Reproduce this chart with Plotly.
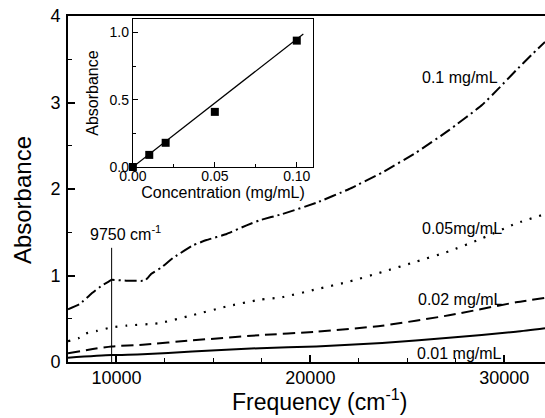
import plotly.graph_objects as go

# ---- main spectra data ----
freq_01 = [7500, 8100, 8760, 9280, 9600, 9750, 10500, 11470, 11600, 11800, 12300, 12900,
           13950, 14650, 15680, 16710, 17400, 18550, 20300, 22000, 23700, 25450, 27150,
           28850, 29700, 30600, 31400, 32100]
abs_01 = [0.61, 0.67, 0.80, 0.89, 0.93, 0.95, 0.94, 0.94, 0.97, 1.02, 1.09, 1.20,
          1.35, 1.41, 1.48, 1.58, 1.64, 1.71, 1.84, 2.00, 2.19, 2.42, 2.68,
          2.97, 3.16, 3.37, 3.55, 3.70]

freq_005 = [7500, 8100, 8440, 9000, 9750, 10500, 12200, 13900, 15650, 17400, 18550,
            20300, 22000, 23700, 25450, 27150, 28850, 30600, 32100]
abs_005 = [0.24, 0.28, 0.33, 0.36, 0.40, 0.42, 0.45, 0.54, 0.64, 0.72, 0.75,
           0.84, 0.93, 1.04, 1.16, 1.28, 1.43, 1.60, 1.71]

freq_002 = [7500, 8780, 9750, 11350, 13900, 17400, 20300, 23700, 27150, 30600, 32100]
abs_002 = [0.10, 0.15, 0.18, 0.20, 0.25, 0.31, 0.35, 0.42, 0.54, 0.69, 0.74]

freq_001 = [7500, 9750, 11350, 13900, 17400, 20300, 23700, 27150, 30600, 32100]
abs_001 = [0.05, 0.08, 0.09, 0.12, 0.16, 0.18, 0.22, 0.28, 0.35, 0.39]

marker_freq = [9750, 9750]
marker_abs = [0.0, 1.32]

series_labels = ["0.1 mg/mL", "0.05mg/mL", "0.02 mg/mL", "0.01 mg/mL"]
label_x = [27700, 27800, 27750, 27700]
label_y = [3.29, 1.54, 0.72, 0.10]

# ---- inset calibration data ----
conc = [0.0, 0.01, 0.02, 0.05, 0.10]
conc_abs = [0.0, 0.09, 0.18, 0.41, 0.94]
fit_conc = [0.0, 0.104]
fit_abs = [0.0, 0.99]

FONT = "Liberation Sans, Arial, sans-serif"
BLACK = "black"

fig = go.Figure()

fig.add_trace(go.Scatter(x=freq_01, y=abs_01, mode="lines",
                         line=dict(color=BLACK, width=2, dash="12px,4px,2px,4px",
                                   shape="spline", smoothing=0.3),
                         showlegend=False))
fig.add_trace(go.Scatter(x=freq_005, y=abs_005, mode="lines",
                         line=dict(color=BLACK, width=2.2, dash="2px,8px", shape="spline", smoothing=0.6),
                         showlegend=False))
fig.add_trace(go.Scatter(x=freq_002, y=abs_002, mode="lines",
                         line=dict(color=BLACK, width=2, dash="12px,6px", shape="spline", smoothing=0.6),
                         showlegend=False))
fig.add_trace(go.Scatter(x=freq_001, y=abs_001, mode="lines",
                         line=dict(color=BLACK, width=2, shape="spline", smoothing=0.6),
                         showlegend=False))
fig.add_trace(go.Scatter(x=marker_freq, y=marker_abs, mode="lines",
                         line=dict(color=BLACK, width=1), showlegend=False))

# inset
fig.add_trace(go.Scatter(x=fit_conc, y=fit_abs, mode="lines", xaxis="x2", yaxis="y2",
                         line=dict(color=BLACK, width=1.2), showlegend=False))
fig.add_trace(go.Scatter(x=conc, y=conc_abs, mode="markers", xaxis="x2", yaxis="y2",
                         marker=dict(symbol="square", size=8, color=BLACK),
                         cliponaxis=False, showlegend=False))

for t, xv, yv in zip(series_labels, label_x, label_y):
    fig.add_annotation(x=xv, y=yv, text=t, showarrow=False, xref="x", yref="y",
                       font=dict(family=FONT, size=16, color=BLACK))

fig.add_annotation(x=10460, y=1.49, text="9750 cm<sup>-1</sup>", showarrow=False,
                   xref="x", yref="y", font=dict(family=FONT, size=16, color=BLACK))

# main axis titles
fig.add_annotation(x=0.528, y=-0.11, xref="paper", yref="paper", showarrow=False,
                   text="Frequency (cm<sup>-1</sup>)", yanchor="middle",
                   font=dict(family=FONT, size=23, color=BLACK))
fig.add_annotation(x=-0.0964, y=0.468, xref="paper", yref="paper", showarrow=False,
                   text="Absorbance", textangle=-90, xanchor="center", yanchor="middle",
                   font=dict(family=FONT, size=24, color=BLACK))

fig.update_layout(
    width=545, height=418,
    margin=dict(l=68, r=0, t=16, b=56),
    paper_bgcolor="white", plot_bgcolor="white",
    font=dict(family=FONT, color=BLACK),
    xaxis=dict(range=[7500, 32100], showgrid=False, zeroline=False,
               showline=True, linecolor=BLACK, linewidth=2, mirror=True,
               ticks="inside", ticklen=7, tickwidth=1.5, tickcolor=BLACK,
               tick0=0, dtick=10000, tickformat="d", ticklabelstandoff=-2,
               minor=dict(ticks="inside", ticklen=4, dtick=2500, tick0=0, tickcolor=BLACK, tickwidth=1.2),
               tickfont=dict(size=18, family=FONT)),
    yaxis=dict(range=[0, 4], showgrid=False, zeroline=False,
               showline=True, linecolor=BLACK, linewidth=2,
               ticks="inside", ticklen=7, tickwidth=1.5, tickcolor=BLACK,
               tick0=0, dtick=1, ticklabelstandoff=2,
               minor=dict(ticks="inside", ticklen=4, dtick=0.5, tick0=0, tickcolor=BLACK, tickwidth=1.2),
               tickfont=dict(size=18, family=FONT)),
    xaxis2=dict(domain=[0.136, 0.514], anchor="y2", range=[0, 0.11],
                showgrid=False, zeroline=False, showline=True, linecolor=BLACK, linewidth=1.2,
                mirror=True, ticks="inside", ticklen=5, tickcolor=BLACK,
                tick0=0, dtick=0.05, tickformat=".2f", ticklabelstandoff=-4,
                minor=dict(ticks="inside", ticklen=3, dtick=0.025, tick0=0, tickcolor=BLACK),
                tickfont=dict(size=14, family=FONT),
                title=dict(text="Concentration (mg/mL)", font=dict(size=16, family=FONT), standoff=0)),
    yaxis2=dict(domain=[0.5636, 0.991], anchor="x2", range=[0, 1.1],
                showgrid=False, zeroline=False, showline=True, linecolor=BLACK, linewidth=1.2,
                mirror=True, ticks="inside", ticklen=5, tickcolor=BLACK,
                tick0=0, dtick=0.5, tickformat=".1f",
                minor=dict(ticks="inside", ticklen=3, dtick=0.25, tick0=0, tickcolor=BLACK),
                tickfont=dict(size=14, family=FONT),
                title=dict(text="Absorbance", font=dict(size=16, family=FONT), standoff=6)),
)

fig.write_html("out.html")
